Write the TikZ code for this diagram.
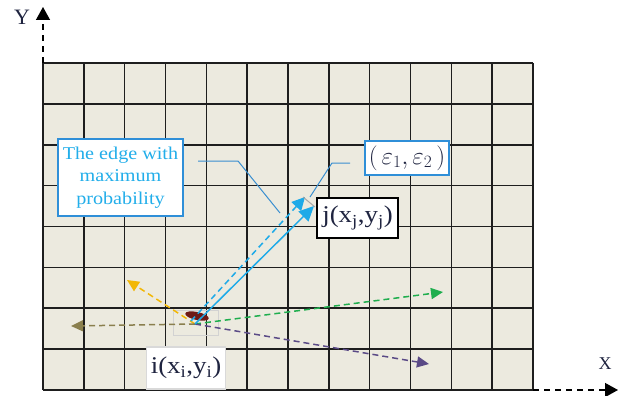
\documentclass[tikz,border=0pt]{standalone}
\usepackage{fontspec}
\setmainfont{Liberation Serif}
\newfontfamily\widefont[FakeStretch=1.12]{Liberation Serif}
\usetikzlibrary{arrows.meta}
\definecolor{gridfill}{HTML}{ECEADF}
\definecolor{gridline}{HTML}{1E1E1E}
\definecolor{boxblue}{HTML}{2F8FD8}
\definecolor{textcyan}{HTML}{22AEEA}
\definecolor{arrblue}{HTML}{1EAAE8}
\definecolor{leader}{HTML}{3A8FD0}
\definecolor{arrgold}{HTML}{F2B705}
\definecolor{arrolive}{HTML}{8A7F4E}
\definecolor{arrgreen}{HTML}{1FAE4E}
\definecolor{arrpurple}{HTML}{5A4A86}
\definecolor{navy}{HTML}{1F2440}
\definecolor{blob}{HTML}{6E1A16}
\tikzset{
  axis/.style={dash pattern=on 6pt off 5pt, line width=1.4pt, black,
    -{Triangle[length=13pt,width=14pt]}},
  vect/.style={dash pattern=on 6pt off 4pt, line width=1.5pt,
    -{Triangle[length=12pt,width=11pt]}},
  labelbox/.style={draw=black, line width=1.2pt, fill=white, inner sep=0pt,
    font=\widefont\fontsize{24}{26}\selectfont, text=navy},
  notebox/.style={draw=boxblue, line width=2pt, fill=white, inner sep=0pt},
  leaderline/.style={draw=leader, line width=1pt},
}
\begin{document}
\begin{tikzpicture}[x=1pt,y=-1pt]
\useasboundingbox (0,0) rectangle (624,396);
% grid
\fill[gridfill] (43,63) rectangle (533,390);
\foreach \i in {0,...,12} \draw[gridline, line width=1.6pt] ({43+\i*490/12},63) -- ({43+\i*490/12},390);
\foreach \j in {0,...,8} \draw[gridline, line width=1.6pt] (43,{63+\j*327/8}) -- (533,{63+\j*327/8});
% axes
\coordinate (O) at (43,390);
\coordinate (ytop) at (43,63);
\coordinate (yend) at (43,7);
\coordinate (xright) at (533,390);
\coordinate (xend) at (618,390);
\draw[axis] (ytop) -- (yend);
\draw[axis] (xright) -- (xend);
\node[font=\fontsize{22}{24}\selectfont, text=navy] (Ylab) at (22,17) {Y};
\node[font=\fontsize{18}{20}\selectfont, text=navy] (Xlab) at (605,364) {X};
% origin marker
\draw[gray!35, line width=0.8pt] (173,310) rectangle (218,335);
\fill[blob, rotate around={-12:(197,316)}] (197,316) ellipse (12pt and 4pt);
% vectors
\coordinate (o) at (195,324);
\coordinate (ob) at (191,321);
\coordinate (tgold) at (127,280);
\coordinate (tolive) at (71,326);
\coordinate (tgreen) at (443,292);
\coordinate (tpurple) at (429,364);
\coordinate (tblue) at (314,206);
\coordinate (tbluedash) at (305,197);
\draw[vect, arrgold] (o) -- (tgold);
\draw[vect, arrolive] (o) -- (tolive);
\draw[vect, arrgreen] (o) -- (tgreen);
\draw[vect, arrpurple] (o) -- (tpurple);
\draw[line width=1.5pt, arrblue, -{Triangle[length=15pt,width=14pt]}] (o) -- (tblue);
\draw[dash pattern=on 6pt off 4pt, line width=1.5pt, arrblue, -{Triangle[length=13pt,width=13pt]}] (ob) -- (tbluedash);
\coordinate (g1) at (303,197);
\coordinate (g2) at (315,207);
\draw[gray!70, line width=1pt] (g1) -- (g2);
% labels
\node[labelbox, minimum width=81pt, minimum height=40pt] (j) at (357.5,218) {j(x\textsubscript{j},y\textsubscript{j})};
\node[labelbox, draw=gray!30, minimum width=79pt, minimum height=42pt] (i) at (186,368) {i(x\textsubscript{i},y\textsubscript{i})};
\node[notebox, minimum width=125pt, minimum height=77pt, align=center, text=textcyan,
  font=\widefont\fontsize{18}{22.5}\selectfont] (edge) at (120.5,177.5) {The edge with\\maximum\\probability};
\node[notebox, minimum width=84pt, minimum height=34pt, text=navy,
  font=\fontsize{23}{26}\selectfont] (eps) at (407,158) {$(\,\varepsilon_1,\varepsilon_2\,)$};
% leaders
\coordinate (l1) at (198,161);
\coordinate (l2) at (238,161);
\coordinate (l3) at (280,213);
\draw[leaderline] (l1) -- (l2) -- (l3);
\coordinate (e1) at (350,163);
\coordinate (e2) at (332,163);
\coordinate (e3) at (310,197);
\draw[leaderline] (e1) -- (e2) -- (e3);
\end{tikzpicture}
\end{document}
